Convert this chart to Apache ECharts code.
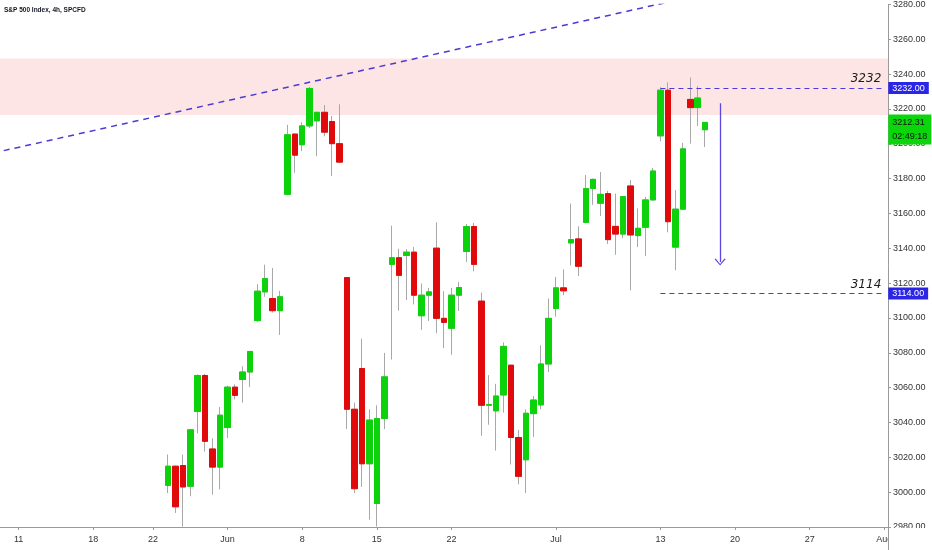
<!DOCTYPE html>
<html>
<head>
<meta charset="utf-8">
<script src="https://cdn.jsdelivr.net/npm/echarts@6/dist/echarts.min.js"></script>
<style>
html, body { margin: 0; padding: 0; background: #fff; }
#chart { width: 932px; height: 550px; }
</style>
</head>
<body>
<div id="chart"></div>
<script>
// trading days shown on the axis (May 8 .. Aug 3, no holidays)
var tradingDays = [
    '05-08',
    '05-11', '05-12', '05-13', '05-14', '05-15',
    '05-18', '05-19', '05-20', '05-21', '05-22',
    '05-26', '05-27', '05-28', '05-29',
    '06-01', '06-02', '06-03', '06-04', '06-05',
    '06-08', '06-09', '06-10', '06-11', '06-12',
    '06-15', '06-16', '06-17', '06-18', '06-19',
    '06-22', '06-23', '06-24', '06-25', '06-26',
    '06-29', '06-30', '07-01', '07-02',
    '07-06', '07-07', '07-08', '07-09', '07-10',
    '07-13', '07-14', '07-15', '07-16', '07-17',
    '07-20', '07-21', '07-22', '07-23', '07-24',
    '07-27', '07-28', '07-29', '07-30', '07-31',
    '08-03'
];
var sessions = ['09:30', '13:30'];
var lastCategory = '08-03 09:30';

var tickLabels = {
    '05-11': '11', '05-18': '18', '05-22': '22', '06-01': 'Jun',
    '06-08': '8', '06-15': '15', '06-22': '22', '07-01': 'Jul',
    '07-13': '13', '07-20': '20', '07-27': '27', '08-03': 'Aug'
};

// 4h candles [open, close, low, high], first one on 05-26 09:30
var firstBar = '05-26 09:30';
var candles = [
    [3003.9, 3014.9, 2999.5, 3021.6], [3014.9, 2991.6, 2988.1, 3015.2],
    [3015.3, 3003.0, 2980.3, 3021.6], [3003.4, 3035.8, 2997.7, 3036.2],
    [3046.3, 3067.0, 3033.7, 3067.6], [3067.0, 3029.2, 3023.3, 3067.9],
    [3024.8, 3014.4, 2998.6, 3030.9], [3014.4, 3044.2, 3001.6, 3048.9],
    [3037.1, 3060.3, 3031.1, 3061.1], [3060.3, 3055.6, 3053.3, 3061.9],
    [3064.7, 3069.0, 3051.4, 3072.3], [3069.0, 3080.8, 3060.3, 3081.0],
    [3098.5, 3115.4, 3098.0, 3119.4], [3115.0, 3122.6, 3112.2, 3130.6],
    [3111.2, 3104.2, 3103.1, 3128.7], [3104.2, 3112.2, 3090.3, 3115.6],
    [3171.0, 3205.2, 3170.5, 3210.9], [3205.6, 3193.5, 3183.4, 3205.8],
    [3199.5, 3210.3, 3195.8, 3212.4], [3210.3, 3231.8, 3209.0, 3232.8],
    [3213.2, 3218.1, 3192.9, 3218.3], [3218.1, 3206.7, 3204.3, 3222.3],
    [3212.8, 3200.1, 3181.5, 3216.0], [3200.1, 3189.5, 3189.0, 3222.7],
    [3123.2, 3047.6, 3036.2, 3123.5], [3047.6, 3002.0, 2999.5, 3051.4],
    [3071.0, 3016.3, 3003.0, 3088.1], [3016.3, 3041.4, 2984.2, 3047.6],
    [2993.5, 3042.3, 2980.3, 3049.9], [3042.3, 3066.2, 3036.2, 3079.9],
    [3130.8, 3134.6, 3076.1, 3153.0], [3134.6, 3124.5, 3104.2, 3139.7],
    [3135.9, 3137.8, 3110.3, 3139.5], [3137.8, 3113.1, 3107.8, 3140.7],
    [3101.3, 3113.1, 3093.2, 3119.8], [3113.1, 3115.0, 3098.3, 3117.3],
    [3140.1, 3099.8, 3091.3, 3154.9], [3099.8, 3097.5, 3082.7, 3115.4],
    [3094.1, 3113.1, 3078.9, 3117.3], [3113.1, 3117.5, 3104.0, 3120.7],
    [3138.2, 3152.5, 3132.1, 3154.0], [3152.5, 3130.8, 3126.8, 3154.6],
    [3109.7, 3049.9, 3032.4, 3114.6], [3049.9, 3050.3, 3038.7, 3067.2],
    [3046.7, 3055.2, 3023.9, 3062.2], [3055.8, 3083.7, 3045.7, 3086.0],
    [3072.9, 3031.4, 3015.9, 3073.2], [3031.4, 3009.1, 3004.5, 3035.7],
    [3018.6, 3045.3, 2999.5, 3047.6], [3045.1, 3052.9, 3031.8, 3055.2],
    [3050.1, 3073.6, 3047.6, 3084.3], [3073.6, 3099.8, 3069.0, 3111.2],
    [3105.5, 3117.3, 3100.8, 3123.6], [3117.3, 3115.6, 3113.1, 3127.9],
    [3143.1, 3145.0, 3130.2, 3165.7], [3145.4, 3129.7, 3124.1, 3152.6],
    [3154.9, 3174.3, 3154.5, 3182.1], [3174.4, 3179.6, 3165.0, 3180.1],
    [3165.9, 3171.0, 3158.6, 3183.8], [3171.4, 3145.0, 3142.5, 3173.0],
    [3152.6, 3148.2, 3136.3, 3171.4], [3148.2, 3169.7, 3145.8, 3170.0],
    [3175.8, 3147.7, 3115.9, 3179.2], [3147.3, 3151.5, 3140.7, 3162.9],
    [3152.1, 3167.8, 3135.5, 3169.5], [3167.8, 3184.4, 3167.5, 3186.2],
    [3204.6, 3230.8, 3201.4, 3232.5], [3230.8, 3155.3, 3149.2, 3235.3],
    [3140.7, 3162.5, 3127.4, 3173.5], [3162.5, 3197.1, 3162.0, 3200.5],
    [3225.5, 3220.8, 3200.1, 3238.1], [3220.8, 3226.3, 3210.3, 3233.1],
    [3208.1, 3212.3, 3198.2, 3212.5]
];

// drawings
var zone = [3216.5, 3249];
var trendLine = [['05-08 09:30', 3196.1], ['07-29 09:30', 3303.4]];
var levels = [3232, 3114];
var levelStart = '07-13 09:30';
var tagStart = '07-31 13:30';
var arrowLine = [['07-17 09:30', 3223.3], ['07-17 09:30', 3132.1]];
var lastPrice = 3212.31;
var countdown = '02:49:18';

var yMin = 2980, yMax = 3280, yStep = 20;

var upColor = '#0cd20c';
var downColor = '#e00a0a';
var wickColor = '#a8a8a8';
var drawColor = '#4a3ad6';
var axisColor = '#9a9a9a';
var font = "'Liberation Sans', Arial, sans-serif";
var gridRight = 44, gridBottom = 23;

var categories = [];
tradingDays.forEach(function (d) {
    sessions.forEach(function (s) {
        categories.push(d + ' ' + s);
    });
});
categories = categories.slice(0, categories.indexOf(lastCategory) + 1);

var offset = categories.indexOf(firstBar);
var wickData = [], bodyData = [];
for (var i = 0; i < offset; i++) {
    wickData.push('-');
    bodyData.push('-');
}
candles.forEach(function (c) {
    wickData.push(c);
    bodyData.push([c[0], c[1], Math.min(c[0], c[1]), Math.max(c[0], c[1])]);
});

var showTick = function (idx, value) {
    var p = value.split(' ');
    return p[1] === sessions[0] && tickLabels[p[0]] !== undefined;
};

var chart = echarts.init(document.getElementById('chart'));
var W = chart.getWidth(), H = chart.getHeight();

var hidden = { color: 'rgba(0,0,0,0)', width: 0 };

var levelLines = levels.map(function (v) {
    return [{
        coord: [levelStart, v],
        lineStyle: { color: drawColor, width: 1.2, type: [5, 4] },
        label: {
            show: true, position: 'insideEndTop', formatter: String(v), distance: 3,
            fontSize: 12, fontStyle: 'italic', color: '#1e1e1e', fontFamily: 'DejaVu Sans'
        }
    }, { coord: [lastCategory, v] }];
});
var levelTags = levels.map(function (v) {
    return [{
        coord: [tagStart, v],
        lineStyle: hidden,
        label: {
            show: true, position: 'end', distance: 4, formatter: v.toFixed(2),
            backgroundColor: '#2b26e6', color: '#fff', padding: [2, 4, 1, 4],
            fontSize: 9, fontFamily: font
        }
    }, { coord: [lastCategory, v] }];
});
var priceTag = [{
    coord: [tagStart, lastPrice],
    lineStyle: hidden,
    label: {
        show: true, position: 'end', distance: 4, offset: [0, 7],
        formatter: lastPrice.toFixed(2) + '\n' + countdown,
        lineHeight: 14, backgroundColor: '#0bd60b', color: '#111', padding: [1, 4, 1, 4],
        fontSize: 9, fontFamily: font
    }
}, { coord: [lastCategory, lastPrice] }];
var arrowMark = [{
    coord: arrowLine[0], symbol: 'none',
    lineStyle: { color: '#5a48e0', width: 1.3, type: 'solid' },
    label: { show: false }
}, {
    coord: arrowLine[1],
    symbol: 'path://M5 0L10 8.5L9 9.5L5 2.2L1 9.5L0 8.5Z',
    symbolSize: [11, 7]
}];

var option = {
    backgroundColor: '#fff',
    animation: false,
    title: {
        text: 'S&P 500 Index, 4h, SPCFD',
        left: 4,
        top: 7,
        padding: 0,
        textStyle: { fontSize: 6.5, fontWeight: 'bold', color: '#131722', fontFamily: font }
    },
    grid: { left: -1, right: gridRight, top: 0.7, bottom: gridBottom },
    xAxis: {
        type: 'category',
        data: categories,
        boundaryGap: true,
        axisLine: { lineStyle: { color: axisColor, width: 1 } },
        axisTick: { show: true, interval: showTick, alignWithLabel: true, length: 3, lineStyle: { color: axisColor } },
        axisLabel: {
            interval: showTick,
            margin: 8,
            color: '#333',
            fontSize: 9,
            fontFamily: font,
            formatter: function (value) { return tickLabels[value.split(' ')[0]]; }
        },
        splitLine: { show: false }
    },
    yAxis: {
        type: 'value',
        position: 'right',
        min: yMin,
        max: yMax,
        interval: yStep,
        axisLine: { show: true, lineStyle: { color: axisColor, width: 1 } },
        axisTick: { show: true, length: 3, lineStyle: { color: axisColor } },
        axisLabel: {
            margin: 5,
            color: '#333',
            fontSize: 9,
            fontFamily: font,
            formatter: function (v) { return v.toFixed(2); }
        },
        splitLine: { show: false }
    },
    // price scale pane: covers the time labels and carries the axis line down
    graphic: [
        {
            type: 'rect', z: 100, silent: true,
            shape: { x: W - gridRight + 0.5, y: H - gridBottom + 1, width: gridRight, height: gridBottom },
            style: { fill: '#fff' }
        },
        {
            type: 'line', z: 101, silent: true,
            shape: { x1: W - gridRight + 0.5, y1: H - gridBottom, x2: W - gridRight + 0.5, y2: H },
            style: { stroke: axisColor, lineWidth: 1 }
        }
    ],
    series: [
        {
            name: 'wicks',
            type: 'candlestick',
            data: wickData,
            barWidth: 6,
            itemStyle: {
                color: wickColor, color0: wickColor,
                borderColor: wickColor, borderColor0: wickColor, borderWidth: 1
            },
            markArea: {
                silent: true,
                itemStyle: { color: 'rgba(245, 70, 70, 0.14)' },
                data: [[{ yAxis: zone[1] }, { yAxis: zone[0] }]]
            }
        },
        {
            name: 'bodies',
            type: 'candlestick',
            data: bodyData,
            barWidth: 6,
            itemStyle: {
                color: upColor, color0: downColor,
                borderColor: upColor, borderColor0: downColor, borderWidth: 1
            },
            markLine: {
                silent: true,
                symbol: 'none',
                animation: false,
                data: levelLines.concat(levelTags, [priceTag, arrowMark])
            }
        },
        {
            name: 'trend',
            type: 'line',
            data: trendLine,
            symbol: 'none',
            clip: true,
            lineStyle: { color: drawColor, width: 1.5, type: [6, 5] }
        }
    ]
};

chart.setOption(option);
</script>
</body>
</html>
